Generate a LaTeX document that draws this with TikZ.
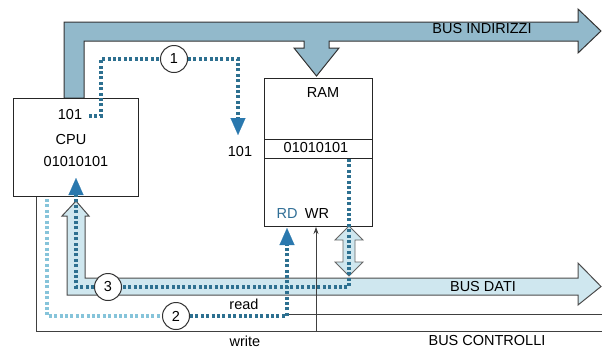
\documentclass[tikz,border=0pt]{standalone}
\usepackage{fontspec}
\setmainfont{Liberation Sans}
\usetikzlibrary{arrows.meta}
\definecolor{addr}{HTML}{92B9CB}
\definecolor{databus}{HTML}{CFE7EF}
\definecolor{dotdark}{HTML}{2D7090}
\definecolor{dotlight}{HTML}{86C4DA}
\definecolor{tipblue}{HTML}{2A78AE}
\definecolor{rdblue}{HTML}{2F6E96}
\begin{document}
\begin{tikzpicture}[x=1pt,y=-1pt,
  box/.style={draw=black!85,line width=1pt,fill=white},
  lbl/.style={font=\fontsize{14.5}{16}\selectfont,inner sep=0pt},
  num/.style={circle,draw=black!80,line width=1pt,fill=white,minimum size=27pt,inner sep=0pt,font=\fontsize{14.5}{16}\selectfont},
  dots/.style={line width=3.4pt,dash pattern=on 3pt off 2.4pt,draw=dotdark},
  ldots/.style={line width=3.4pt,dash pattern=on 3pt off 2.4pt,draw=dotlight},
  ctl/.style={draw=black!75,line width=0.7pt},
  bigtip/.style={-{Triangle[length=17pt,width=15pt,line width=0.1pt,color=tipblue,fill=tipblue]}}]
\useasboundingbox (0,0) rectangle (602,349);

% address bus
\path[draw=black!80,line width=1pt,fill=addr]
  (64,98) -- (64,22) -- (578,22) -- (578,9) -- (601,31) -- (578,53) -- (578,41)
  -- (329,41) -- (329,48) -- (339,48) -- (316.5,76) -- (294,48) -- (304,48) -- (304,41)
  -- (84,41) -- (84,98) -- cycle;
\node[lbl] (bi) at (482,29) {BUS INDIRIZZI};

% control lines
\coordinate (wcpu) at (36,197);
\coordinate (wcorner) at (36,331);
\coordinate (wend) at (602,331);
\coordinate (rstart) at (287,314);
\coordinate (rend) at (602,314);
\draw[ctl] (wcpu) -- (wcorner) -- (wend);
\draw[ctl] (rstart) -- (rend);
\node[lbl] (readl) at (244,304) {read};
\node[lbl] (writel) at (245,341) {write};
\node[lbl] (bc) at (487,340) {BUS CONTROLLI};

% data bus
\path[draw=black!70,line width=1pt,fill=databus]
  (76,201) -- (89,216) -- (85,216) -- (85,278) -- (578,278) -- (578,263) -- (601,286.5)
  -- (578,305) -- (578,295) -- (67,295) -- (67,216) -- (62,216) -- cycle;
\node[lbl] (bd) at (483,287) {BUS DATI};

% boxes
\node[box,minimum width=125pt,minimum height=98pt,anchor=north west] (cpu) at (13,98) {};
\node[box,minimum width=108pt,minimum height=148pt,anchor=north west] (ram) at (264,78) {};
\draw[draw=black!85,line width=1pt] (264,139) -- (372,139);
\draw[draw=black!85,line width=1pt] (264,158) -- (372,158);

% WR control arrow
\coordinate (wrbot) at (316,331);
\draw[ctl,-{Stealth[length=7pt,width=5pt]}] (wrbot) -- (ram.south -| wrbot);

% double arrow
\path[draw=black!60,line width=0.8pt,fill=databus]
  (349,226) -- (363,240) -- (355,240) -- (355,262) -- (363,262) -- (349,276)
  -- (335,262) -- (343,262) -- (343,240) -- (335,240) -- cycle;

% texts in boxes
\node[lbl] (a1) at (70,115) {101};
\node[lbl] (cpul) at (71,140) {CPU};
\node[lbl] (d1) at (76,162) {01010101};
\node[lbl] (a2) at (240,152) {101};
\node[lbl] (raml) at (323,93) {RAM};
\node[lbl] (d2) at (316,148) {01010101};
\node[lbl,text=rdblue] (rd) at (287,214) {RD};
\node[lbl] (wr) at (317,214) {WR};

% numbered circles
\node[num] (c1) at (174,59) {1};
\node[num] (c2) at (176,316) {2};
\node[num] (c3) at (108,287) {3};

% path 1
\draw[dots] (89,116) -- (101,116) -- (101,59) -- (c1.west);
\draw[dots,bigtip] (c1.east) -- (238,59) -- (238,135);

% path 2
\draw[ldots] (47,199) -- (47,316) -- (c2.west);
\draw[dots,bigtip] (c2.east) -- (287,316) -- (287,228);

% path 3
\draw[dots] (349,159) -- (349,287) -- (c3.east);
\draw[dots,bigtip] (c3.west) -- (76,287) -- (76,178);
\end{tikzpicture}
\end{document}
